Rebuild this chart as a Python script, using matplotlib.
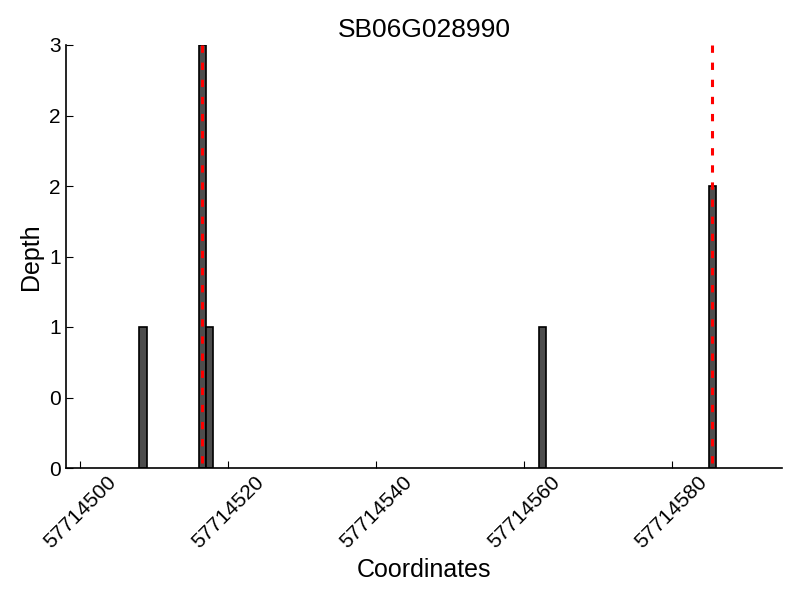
import numpy as np
import matplotlib
matplotlib.use("Agg")
import matplotlib.pyplot as plt
from matplotlib.ticker import FormatStrFormatter

plt.rcParams['font.family'] = ['Liberation Sans', 'DejaVu Sans']

gene = "SB06G028990"
positions = [57714508, 57714516, 57714517, 57714562, 57714585]
depth = [1, 3, 1, 1, 2]
peaks = [57714516.5, 57714585.5]
xticks = [57714500, 57714520, 57714540, 57714560, 57714580]
yticks = [0, 0.5, 1, 1.5, 2, 2.5, 3]

fig = plt.figure(figsize=(8, 6), dpi=100)
ax = fig.add_axes([0.082, 0.22, 0.896, 0.705])
ax.bar(positions, depth, width=1, align="edge", color="#4d4d4d",
       edgecolor="black", linewidth=1.2, zorder=2)
# drawn top-down so the dash pattern starts at the top
ax.vlines(peaks, max(depth), 0, colors="red", linestyles=(0, (2.4, 3.2)),
          linewidth=2.2, zorder=3)

ax.set_xlim(57714498, 57714595)
ax.set_ylim(0, 3)
ax.set_xticks(xticks)
ax.set_xticklabels([str(x) for x in xticks], rotation=45)
ax.set_yticks(yticks)
ax.yaxis.set_major_formatter(FormatStrFormatter('%d'))
ax.tick_params(direction="in", length=5, labelsize=15, width=0.8)
for s in ["top", "right"]:
    ax.spines[s].set_visible(False)
for s in ["left", "bottom"]:
    ax.spines[s].set_linewidth(1.2)

ax.set_title(gene, fontsize=19)
ax.set_xlabel("Coordinates", fontsize=18)
ax.set_ylabel("Depth", fontsize=18)

plt.savefig("out.png")
